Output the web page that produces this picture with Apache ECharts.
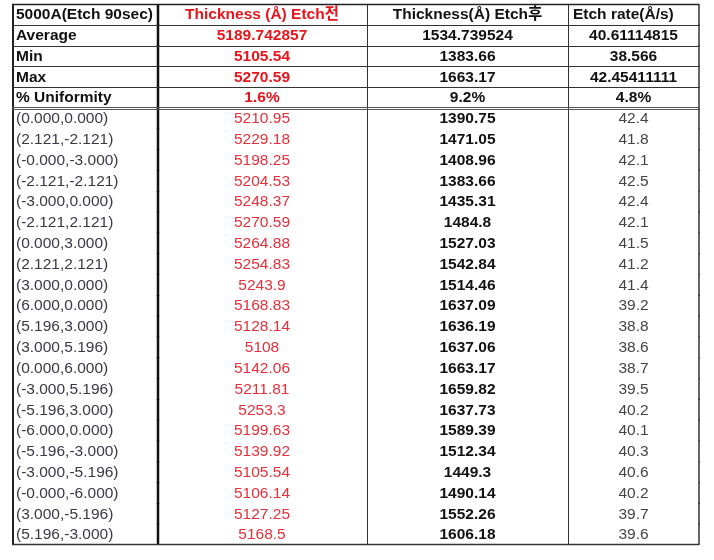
<!DOCTYPE html>
<html>
<head>
<meta charset="utf-8">
<script src="https://cdn.jsdelivr.net/npm/echarts@6/dist/echarts.min.js"></script>
<style>html,body{margin:0;padding:0;background:#fff}#c{width:714px;height:560px}</style>
</head>
<body>
<div id="c"></div>
<script>
// ---- data ----
const headers = ["5000A(Etch 90sec)", "Thickness (Å) Etch전", "Thickness(Å) Etch후", "Etch rate(Å/s)"];
const summaryLabels = ["Average", "Min", "Max", "% Uniformity"];
const summaryBefore = ["5189.742857", "5105.54", "5270.59", "1.6%"];
const summaryAfter = ["1534.739524", "1383.66", "1663.17", "9.2%"];
const summaryRate = ["40.61114815", "38.566", "42.45411111", "4.8%"];
const points = ["(0.000,0.000)", "(2.121,-2.121)", "(-0.000,-3.000)", "(-2.121,-2.121)", "(-3.000,0.000)",
  "(-2.121,2.121)", "(0.000,3.000)", "(2.121,2.121)", "(3.000,0.000)", "(6.000,0.000)", "(5.196,3.000)",
  "(3.000,5.196)", "(0.000,6.000)", "(-3.000,5.196)", "(-5.196,3.000)", "(-6.000,0.000)", "(-5.196,-3.000)",
  "(-3.000,-5.196)", "(-0.000,-6.000)", "(3.000,-5.196)", "(5.196,-3.000)"];
const thicknessBefore = [5210.95, 5229.18, 5198.25, 5204.53, 5248.37, 5270.59, 5264.88, 5254.83, 5243.9,
  5168.83, 5128.14, 5108, 5142.06, 5211.81, 5253.3, 5199.63, 5139.92, 5105.54, 5106.14, 5127.25, 5168.5];
const thicknessAfter = [1390.75, 1471.05, 1408.96, 1383.66, 1435.31, 1484.8, 1527.03, 1542.84, 1514.46,
  1637.09, 1636.19, 1637.06, 1663.17, 1659.82, 1637.73, 1589.39, 1512.34, 1449.3, 1490.14, 1552.26, 1606.18];
const etchRate = [42.4, 41.8, 42.1, 42.5, 42.4, 42.1, 41.5, 41.2, 41.4, 39.2, 38.8, 38.6, 38.7, 39.5, 40.2,
  40.1, 40.3, 40.6, 40.2, 39.7, 39.6];

// ---- layout (column edges in x-axis units) ----
const colEdges = [0, 145, 355, 556, 687];

const rowLabels = [headers[0]].concat(summaryLabels, points);
const rows = [headers];
for (let i = 0; i < summaryLabels.length; i++) rows.push([summaryLabels[i], summaryBefore[i], summaryAfter[i], summaryRate[i]]);
for (let i = 0; i < points.length; i++) rows.push([points[i], String(thicknessBefore[i]), String(thicknessAfter[i]), String(etchRate[i])]);
const nRows = rows.length;

const cells = [];
rows.forEach((row, r) => row.forEach((t, c) => cells.push({ value: [c, r], text: t })));

const FONT = '"Liberation Sans", Arial, "Noto Sans CJK KR", sans-serif';
const RED = '#e8141c';

function styleFor(r, c) {
  const head = r <= 4;
  if (c === 0) return { bold: head, color: head ? '#111' : '#383848', align: 'left' };
  if (c === 1) return { bold: head, color: head ? RED : '#e3303a', align: 'center' };
  if (c === 2) return { bold: true, color: '#111', align: 'center' };
  return { bold: head, color: head ? '#111' : '#444', align: (r === 0 ? 'left' : 'center') };
}

function px(v) { return Math.round(v) + 0.5; }

function renderItem(params, api) {
  const c = api.value(0), r = api.value(1);
  const xL = api.coord([colEdges[c], r])[0];
  const xR = api.coord([colEdges[c + 1], r])[0];
  const yc = api.coord([0, r])[1];
  const h = api.size([0, 1])[1];
  const yT = yc - h / 2, yB = yc + h / 2;
  const vT = yT - 0.6, vB = yB + 0.6;
  const cell = cells[params.dataIndex];
  const st = styleFor(r, c);
  const children = [];
  let tx = (xL + xR) / 2;
  if (st.align === 'left') tx = xL + (c === 0 ? 4 : 5);
  children.push({
    type: 'text',
    style: {
      text: cell.text, x: tx, y: yc + 0.5, align: st.align, verticalAlign: 'middle',
      fill: st.color, font: (st.bold ? 'bold ' : '') + '15.5px ' + FONT
    }
  });
  const ls = (w, col) => ({ stroke: col || '#333', lineWidth: w || 1 });
  const top = Math.max(vT, 4), bot = Math.min(vB, 545);
  // left vertical
  if (c === 0) children.push({ type: 'line', shape: { x1: Math.round(xL) + 1, y1: top, x2: Math.round(xL) + 1, y2: bot }, style: ls(2, '#222') });
  else if (c === 1) children.push({ type: 'line', shape: { x1: Math.round(xL) + 1, y1: top, x2: Math.round(xL) + 1, y2: bot }, style: ls(2.5, '#111') });
  else children.push({ type: 'line', shape: { x1: px(xL), y1: top, x2: px(xL), y2: bot }, style: ls(1, '#333') });
  // right border
  if (c === 3) children.push({ type: 'line', shape: { x1: Math.round(xR), y1: top, x2: Math.round(xR), y2: bot }, style: ls(1.5, '#333') });
  // top border
  if (r === 0) children.push({ type: 'line', shape: { x1: xL, y1: Math.round(yT) + 0.5, x2: xR, y2: Math.round(yT) + 0.5 }, style: ls(1.5, '#222') });
  else if (r <= 4) children.push({ type: 'line', shape: { x1: xL, y1: px(yT), x2: xR, y2: px(yT) }, style: ls(1, '#333') });
  else if (r === 5) {
    children.push({ type: 'line', shape: { x1: xL, y1: px(yT) - 1, x2: xR, y2: px(yT) - 1 }, style: ls(1, '#555') });
    children.push({ type: 'line', shape: { x1: xL, y1: px(yT) + 1, x2: xR, y2: px(yT) + 1 }, style: ls(1, '#555') });
  }
  if (r === nRows - 1) children.push({ type: 'line', shape: { x1: xL, y1: Math.round(yB) - 0.5, x2: xR, y2: Math.round(yB) - 0.5 }, style: ls(1.5, '#333') });
  return { type: 'group', children: children };
}

const chart = echarts.init(document.getElementById('c'), null, { renderer: 'canvas' });
chart.setOption({
  backgroundColor: '#fff',
  animation: false,
  grid: { left: 12, top: 4, width: 687, height: 541 },
  xAxis: { type: 'value', min: 0, max: 687, show: false },
  yAxis: { type: 'category', data: rowLabels, inverse: true, show: false },
  series: [{
    type: 'custom',
    renderItem: renderItem,
    data: cells.map(d => d.value),
    clip: false,
    silent: true
  }]
});
</script>
</body>
</html>
